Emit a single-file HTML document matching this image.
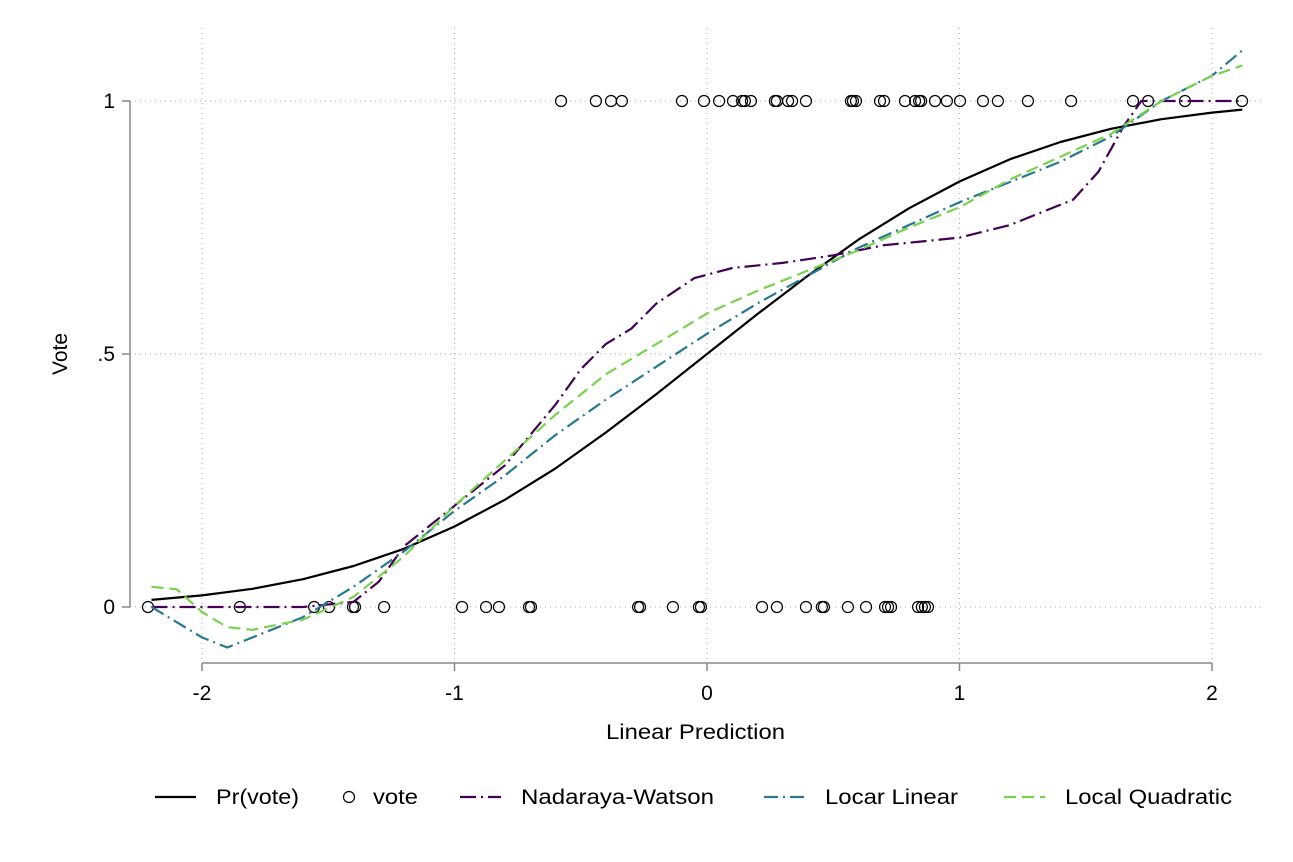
<!DOCTYPE html>
<html><head><meta charset="utf-8"><style>
body{margin:0;background:#fff;}
svg{display:block;font-family:"Liberation Sans",Arial,sans-serif;}
</style></head><body>
<svg id="chart" width="1293" height="862" xmlns="http://www.w3.org/2000/svg">
<rect width="1293" height="862" fill="#fff"/>
<g id="grid"></g>
<g id="axes"></g>
<g id="series"></g>
<text x="606" y="739" font-size="21" textLength="179" lengthAdjust="spacingAndGlyphs">Linear Prediction</text>
<text x="67" y="354" font-size="21" text-anchor="middle" transform="rotate(-90 67 354)">Vote</text>
<g id="legend"></g>
</svg>
<script>
const xTicks=[-2,-1,0,1,2];
const xTickLabels=["-2","-1","0","1","2"];
const yTicks=[0,0.5,1];
const yTickLabels=["0",".5","1"];
const vote1X=[-0.578,-0.440,-0.380,-0.337,-0.099,-0.012,0.048,0.103,0.139,0.150,0.174,0.269,0.277,0.321,0.337,0.392,0.570,0.578,0.590,0.685,0.701,0.784,0.824,0.840,0.848,0.903,0.950,1.002,1.093,1.152,1.271,1.442,1.687,1.747,1.893,2.119];
const vote0X=[-2.214,-1.850,-1.556,-1.497,-1.402,-1.394,-1.279,-0.970,-0.875,-0.824,-0.705,-0.697,-0.273,-0.265,-0.135,-0.032,-0.024,0.218,0.277,0.392,0.455,0.463,0.558,0.630,0.705,0.717,0.729,0.836,0.851,0.863,0.875];
const prX=[-2.2,-2,-1.8,-1.6,-1.4,-1.2,-1,-0.8,-0.6,-0.4,-0.2,0,0.2,0.4,0.6,0.8,1,1.2,1.4,1.6,1.8,2,2.12];
const prY=[0.014,0.023,0.036,0.055,0.081,0.115,0.159,0.212,0.274,0.345,0.421,0.5,0.579,0.655,0.726,0.788,0.841,0.885,0.919,0.945,0.964,0.977,0.983];
const nwX=[-2.2,-1.6,-1.4,-1.3,-1.2,-1.0,-0.8,-0.6,-0.5,-0.4,-0.3,-0.2,-0.05,0.1,0.3,0.5,0.7,0.9,1.0,1.2,1.3,1.45,1.55,1.65,1.72,2.12];
const nwY=[0,0,0.01,0.05,0.12,0.2,0.28,0.4,0.47,0.52,0.55,0.6,0.65,0.67,0.68,0.695,0.715,0.725,0.73,0.755,0.775,0.805,0.86,0.95,1.0,1.0];
const llX=[-2.2,-2.0,-1.9,-1.8,-1.6,-1.4,-1.2,-1.0,-0.8,-0.6,-0.4,-0.2,0,0.2,0.4,0.6,0.8,1.0,1.2,1.4,1.6,1.8,2.0,2.12];
const llY=[0,-0.06,-0.08,-0.06,-0.02,0.04,0.11,0.19,0.26,0.34,0.41,0.475,0.54,0.6,0.655,0.71,0.755,0.8,0.84,0.88,0.93,1.0,1.05,1.1];
const lqX=[-2.2,-2.1,-2.0,-1.9,-1.8,-1.6,-1.4,-1.2,-1.0,-0.8,-0.6,-0.4,-0.2,0,0.2,0.4,0.6,0.8,1.0,1.2,1.4,1.6,1.8,2.0,2.12];
const lqY=[0.04,0.035,-0.01,-0.04,-0.045,-0.025,0.02,0.1,0.2,0.29,0.38,0.46,0.52,0.58,0.625,0.665,0.705,0.75,0.79,0.845,0.89,0.935,1.0,1.05,1.07];

const NS="http://www.w3.org/2000/svg";
const sx=v=>707+v*252.5;
const sy=v=>607-v*506;
function mk(tag,parent,attrs){const e=document.createElementNS(NS,tag);for(const k in attrs)e.setAttribute(k,attrs[k]);parent.appendChild(e);return e;}
const grid=document.getElementById('grid'),axes=document.getElementById('axes'),series=document.getElementById('series'),legend=document.getElementById('legend');

xTicks.forEach((t,i)=>{
  const g=mk('line',grid,{x1:sx(t),x2:sx(t),y1:28,y2:663,stroke:'#aaa','stroke-width':1,'stroke-dasharray':'1,4'});
  
  
  const tk=mk('line',axes,{x1:sx(t),x2:sx(t),y1:663,y2:671,stroke:'#888','stroke-width':1.5});
  
  
  const tl=mk('text',axes,{x:sx(t),y:700,'font-size':21,'text-anchor':'middle'});
  tl.textContent=xTickLabels[i];
  
  
});
yTicks.forEach((t,i)=>{
  const g=mk('line',grid,{x1:130,x2:1265,y1:sy(t),y2:sy(t),stroke:'#aaa','stroke-width':1,'stroke-dasharray':'1,4'});
  
  
  const tk=mk('line',axes,{x1:122,x2:130,y1:sy(t),y2:sy(t),stroke:'#888','stroke-width':1.5});
  
  
  const tl=mk('text',axes,{x:115,y:sy(t)+7,'font-size':21,'text-anchor':'end'});
  tl.textContent=yTickLabels[i];
  
  
});
const ya=mk('line',axes,{x1:130,x2:130,y1:sy(1),y2:sy(0),stroke:'#888','stroke-width':1.5});


const xa=mk('line',axes,{x1:sx(-2),x2:sx(2),y1:663,y2:663,stroke:'#888','stroke-width':1.5});



function line(xs,ys,color,dash,name){
  const d=xs.map((x,i)=>(i?'L':'M')+sx(x).toFixed(1)+','+sy(ys[i]).toFixed(1)).join(' ');
  const p=mk('path',series,{d:d,fill:'none',stroke:color,'stroke-width':2.2,'stroke-dasharray':dash,'stroke-linejoin':'round'});
  
  
}
line(prX,prY,'#000','', 'pr-vote-line');
vote1X.forEach(x=>{const c=mk('circle',series,{cx:sx(x),cy:sy(1),r:5.5,fill:'none',stroke:'#000','stroke-width':1.2});
  
  });
vote0X.forEach(x=>{const c=mk('circle',series,{cx:sx(x),cy:sy(0),r:5.5,fill:'none',stroke:'#000','stroke-width':1.2});
  
  });
line(nwX,nwY,'#440154','16,5,2,5','nadaraya-watson-line');
line(llX,llY,'#2a788e','14,5,2,5','local-linear-line');
line(lqX,lqY,'#7ad151','12,6','local-quadratic-line');

const items=[['Pr(vote)','#000','',155,'line',83],['vote','#000','',340,'circle',45],['Nadaraya-Watson','#440154','16,5,2,5',460,'line',193],['Locar Linear','#2a788e','14,5,2,5',764,'line',133],['Local Quadratic','#7ad151','12,6',1004,'line',167]];
items.forEach(it=>{
  const g=mk('g',legend,{});
  
  
  if(it[4]==='line'){mk('line',g,{x1:it[3],x2:it[3]+41,y1:797,y2:797,stroke:it[1],'stroke-width':2.2,'stroke-dasharray':it[2]});}
  else{mk('circle',g,{cx:it[3]+9,cy:797,r:5.5,fill:'none',stroke:'#000','stroke-width':1.2});}
  const t=mk('text',g,{x:it[4]==='line'?it[3]+61:it[3]+33,y:804,'font-size':21,textLength:it[5],lengthAdjust:'spacingAndGlyphs'});
  t.textContent=it[0];
});
</script>
</body></html>
